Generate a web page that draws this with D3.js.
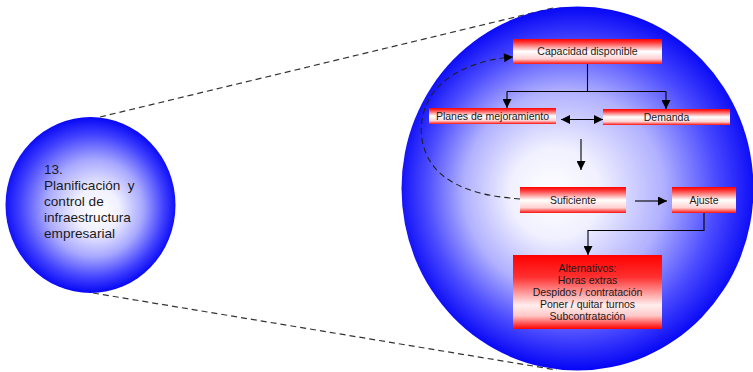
<!DOCTYPE html>
<html><head><meta charset="utf-8">
<script src="https://cdn.jsdelivr.net/npm/d3@7"></script>
<style>
html,body{margin:0;padding:0;background:#fff;}
svg{display:block;font-family:"Liberation Sans",Arial,sans-serif;}
</style></head>
<body>
<svg id="c" width="753" height="372"></svg>
<script>
// ---- content ----
const topicLines = ["13.", "Planificación  y", "control de", "infraestructura", "empresarial"];
const nodeIds = ["cap", "planes", "demanda", "suf", "ajuste", "alt"];
const nodeLabels = [
  ["Capacidad disponible"],
  ["Planes de mejoramiento"],
  ["Demanda"],
  ["Suficiente"],
  ["Ajuste"],
  ["Alternativos:", "Horas extras", "Despidos / contratación", "Poner / quitar turnos", "Subcontratación"]
];

// ---- layout (separate from content) ----
const layout = {
  cap:     {x:513, y:39,  w:149, h:25},
  planes:  {x:429, y:108, w:127, h:16},
  demanda: {x:603, y:109, w:127, h:16},
  suf:     {x:520, y:187, w:106, h:26},
  ajuste:  {x:672, y:187, w:64,  h:26},
  alt:     {x:513, y:255, w:149, h:74}
};

const svg = d3.select("#c");
const defs = svg.append("defs");

// gradients
const bigG = defs.append("radialGradient").attr("id","bigG")
  .attr("gradientUnits","userSpaceOnUse")
  .attr("cx",577).attr("cy",188).attr("r",182).attr("fx",548).attr("fy",195);
[[0,"#ffffff"],[0.25,"#f0f0ff"],[0.55,"#b0b0ff"],[0.8,"#4a4aff"],[1,"#0606f6"]]
  .forEach(([o,c])=>bigG.append("stop").attr("offset",o).attr("stop-color",c));

const smallG = defs.append("radialGradient").attr("id","smallG")
  .attr("gradientUnits","userSpaceOnUse")
  .attr("cx",90).attr("cy",205).attr("r",88).attr("fx",100).attr("fy",212);
[[0,"#ffffff"],[0.25,"#f0f0ff"],[0.55,"#a8a8ff"],[0.82,"#4040ff"],[1,"#0606f6"]]
  .forEach(([o,c])=>smallG.append("stop").attr("offset",o).attr("stop-color",c));

const boxG = defs.append("linearGradient").attr("id","boxG").attr("x1",0).attr("y1",0).attr("x2",0).attr("y2",1);
[[0,"#ff0000"],[0.12,"#ff3030"],[0.5,"#ffffff"],[0.8,"#ffd0d0"],[1,"#ff1010"]]
  .forEach(([o,c])=>boxG.append("stop").attr("offset",o).attr("stop-color",c));
const altG = defs.append("linearGradient").attr("id","altG").attr("x1",0).attr("y1",0).attr("x2",0).attr("y2",1);
[[0,"#ff0000"],[0.3,"#ff3030"],[0.68,"#ffeeee"],[0.82,"#ffc8c8"],[1,"#ff0000"]]
  .forEach(([o,c])=>altG.append("stop").attr("offset",o).attr("stop-color",c));

// arrow marker
defs.append("marker").attr("id","arr").attr("viewBox","0 0 10 10")
  .attr("refX",10).attr("refY",5).attr("markerWidth",10).attr("markerHeight",9)
  .attr("markerUnits","userSpaceOnUse").attr("orient","auto-start-reverse")
  .append("path").attr("d","M0,0 L10,5 L0,10 Z").attr("fill","#000");

// dashed connector lines between circles
const dash = svg.append("g").attr("stroke","#333").attr("stroke-width",1.2).attr("stroke-dasharray","6,4").attr("fill","none");
dash.append("line").attr("x1",100).attr("y1",117).attr("x2",553).attr("y2",8);
dash.append("line").attr("x1",93).attr("y1",293).attr("x2",557).attr("y2",370);

// circles
svg.append("ellipse").attr("cx",90.5).attr("cy",205).attr("rx",85).attr("ry",88).attr("fill","url(#smallG)");
svg.append("ellipse").attr("cx",577.5).attr("cy",188.5).attr("rx",176).attr("ry",182).attr("fill","url(#bigG)");

// small circle text
svg.append("text").attr("x",44).attr("y",174).attr("font-size",13.6).attr("fill","#1a1a1a")
  .style("white-space","pre")
  .selectAll("tspan").data(topicLines).join("tspan")
  .attr("x",44).attr("dy",(d,i)=>i===0?0:16).text(d=>d);

// connectors
const line = d3.line().x(d=>d[0]).y(d=>d[1]);
const conn = svg.append("g").attr("stroke","#000").attr("stroke-width",1.1).attr("fill","none");
const cap = layout.cap, pl = layout.planes, de = layout.demanda, su = layout.suf, aj = layout.ajuste, al = layout.alt;
const cx = cap.x + cap.w/2;
conn.append("path").attr("d", line([[cx, cap.y+cap.h],[cx, 91.5]]));
conn.append("path").attr("d", line([[507, 91.5],[666, 91.5]]));
conn.append("path").attr("d", line([[507, 91.5],[507, pl.y]])).attr("marker-end","url(#arr)");
conn.append("path").attr("d", line([[666, 91.5],[666, de.y]])).attr("marker-end","url(#arr)");
conn.append("path").attr("d", line([[561, 119.5],[603, 119.5]])).attr("marker-end","url(#arr)").attr("marker-start","url(#arr)");
conn.append("path").attr("d", line([[581, 139],[581, 170]])).attr("marker-end","url(#arr)");
conn.append("path").attr("d", line([[635, 201],[667, 201]])).attr("marker-end","url(#arr)");
conn.append("path").attr("d", line([[704, aj.y+aj.h],[704, 230.5],[588, 230.5],[588, al.y]])).attr("marker-end","url(#arr)");

// dashed feedback curve
const curve = d3.line().curve(d3.curveBasis).x(d=>d[0]).y(d=>d[1]);
svg.append("path")
  .attr("d", curve([[520,199],[478,195],[436,176],[418,140],[424,100],[452,72],[490,59],[513,57]]))
  .attr("fill","none").attr("stroke","#222").attr("stroke-width",1.1).attr("stroke-dasharray","6,4")
  .attr("marker-end","url(#arr)");

// boxes
const nodes = nodeIds.map((id,i)=>({id, lines: nodeLabels[i], ...layout[id]}));
const ng = svg.append("g").selectAll("g").data(nodes).join("g");
ng.append("rect").attr("x",d=>d.x).attr("y",d=>d.y).attr("width",d=>d.w).attr("height",d=>d.h)
  .attr("fill",d=>d.id==="alt"?"url(#altG)":"url(#boxG)");
ng.each(function(d){
  const g = d3.select(this);
  const n = d.lines.length, lh = 12;
  const y0 = d.y + d.h/2 - (n-1)*lh/2 + 3.8;
  g.append("text").attr("text-anchor","middle").attr("font-size",10.5).attr("fill","#1a1a1a")
    .selectAll("tspan").data(d.lines).join("tspan")
    .attr("x", d.x + d.w/2).attr("y",(t,i)=>y0 + i*lh).text(t=>t);
});
</script>
</body></html>
